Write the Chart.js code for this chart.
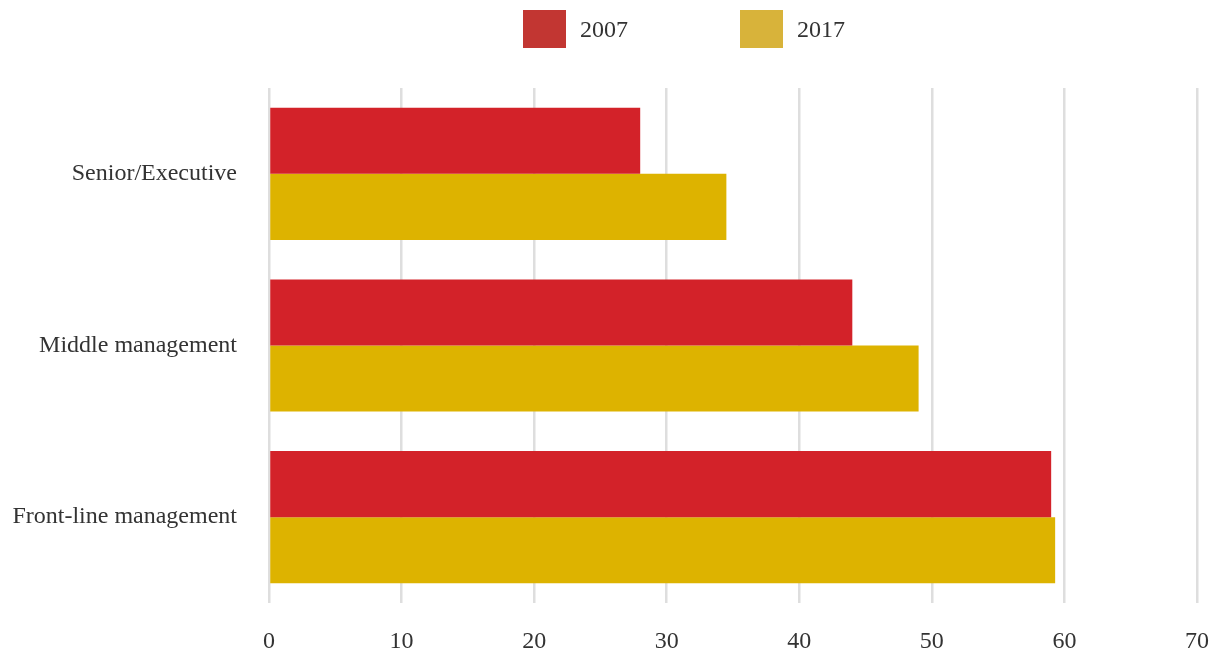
<!DOCTYPE html>
<html>
<head>
<meta charset="utf-8">
<script src="https://cdn.jsdelivr.net/npm/chart.js@4/dist/chart.umd.min.js"></script>
<style>
  html, body { margin: 0; padding: 0; background: #fff; }
  #wrap { position: relative; width: 1210px; height: 650px; }
  #legend { position: absolute; top: 10px; left: 523px; display: flex; font-family: "Liberation Serif", serif; font-size: 24px; color: #333; }
  .item { display: flex; align-items: center; margin-right: 112px; }
  .box { width: 43px; height: 38px; margin-right: 14px; }
</style>
</head>
<body>
<div id="wrap">
  <canvas id="barChart" width="1210" height="650"></canvas>
  <div id="legend"></div>
</div>
<script>
const categories = ['Senior/Executive', 'Middle management', 'Front-line management'];
const years = ['2007', '2017'];
const values2007 = [28, 44, 59];
const values2017 = [34.5, 49, 59.3];
const xTicks = [0, 10, 20, 30, 40, 50, 60, 70];

const barColors = ['#d32229', '#ddb300'];
const legendColors = ['#c23632', '#d8b33a'];

// legend drawn as plain html above the canvas
const legend = document.getElementById('legend');
years.forEach((y, i) => {
    const item = document.createElement('div');
    item.className = 'item';
    item.innerHTML = '<div class="box" style="background:' + legendColors[i] + '"></div><span>' + y + '</span>';
    legend.appendChild(item);
});

const ctx = document.getElementById('barChart').getContext('2d');
new Chart(ctx, {
    type: 'bar',
    data: {
        labels: categories,
        datasets: [
            { label: years[0], data: values2007, backgroundColor: barColors[0] },
            { label: years[1], data: values2017, backgroundColor: barColors[1] }
        ]
    },
    options: {
        indexAxis: 'y',
        responsive: false,
        animation: false,
        categoryPercentage: 0.77,
        barPercentage: 1,
        layout: { padding: { top: 88, right: 13, left: 0, bottom: 0 } },
        plugins: {
            legend: { display: false },
            tooltip: { enabled: false }
        },
        scales: {
            x: {
                min: 0,
                max: 70,
                afterBuildTicks: scale => { scale.ticks = xTicks.map(v => ({ value: v })); },
                afterFit: scale => {
                    scale.height = 47;
                    scale.paddingLeft = 0;
                    scale.paddingRight = 0;
                },
                border: { display: false },
                grid: { color: '#dedede', lineWidth: 2.5, drawTicks: false },
                ticks: {
                    padding: 24,
                    color: '#333',
                    font: { family: 'Liberation Serif', size: 24 }
                }
            },
            y: {
                afterFit: scale => { scale.width = 269; },
                border: { display: false },
                grid: { display: false, drawTicks: false },
                ticks: {
                    padding: 32,
                    color: '#333',
                    font: { family: 'Liberation Serif', size: 24 }
                }
            }
        }
    }
});
</script>
</body>
</html>
